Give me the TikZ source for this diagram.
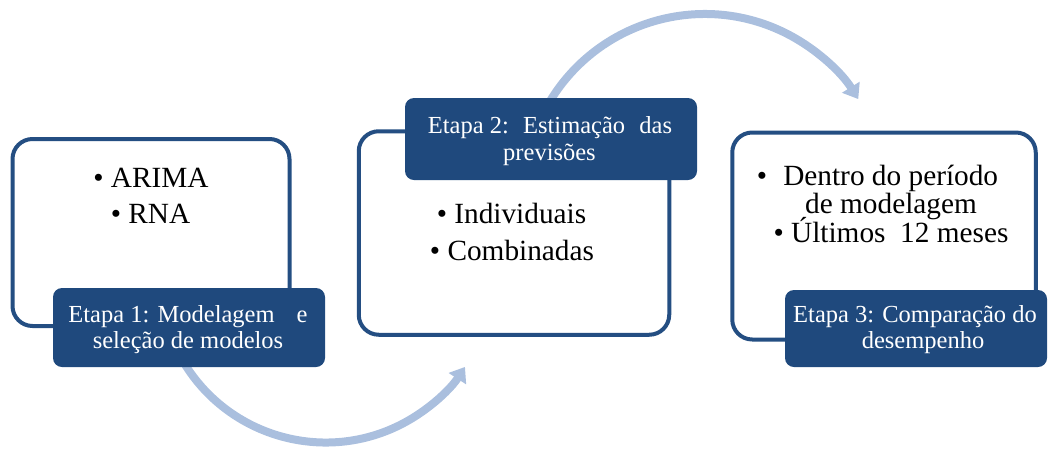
\documentclass[tikz,border=0pt]{standalone}
\usepackage{fontspec}
\setmainfont{Liberation Serif}
\usetikzlibrary{arrows.meta}
\definecolor{navy}{RGB}{31,73,125}
\definecolor{edgec}{RGB}{36,78,130}
\definecolor{flowc}{RGB}{170,191,222}
\begin{document}
\begin{tikzpicture}[x=1pt,y=-1pt,
  card/.style={draw=edgec, line width=4pt, rounded corners=20pt, fill=white, inner sep=0pt},
  tag/.style={fill=navy, rounded corners=9pt, inner sep=0pt},
  body/.style={font=\fontsize{29.3}{34}\selectfont, anchor=base, inner sep=0pt, text=black},
  tagtext/.style={font=\fontsize{24.5}{26}\selectfont, anchor=base, inner sep=0pt, text=white},
  flow/.style={draw=flowc, line width=8pt, -{Triangle[width=20pt,length=14pt]}}]
\useasboundingbox (0,0) rectangle (1049,448);

% connectors (drawn first, behind the boxes)
\coordinate (a1start) at (182,359.5);
\coordinate (a2start) at (548,104.5);
\draw[flow] (a1start) arc[start angle=150, end angle=33, radius=166];
\draw[flow] (a2start) arc[start angle=-150, end angle=-32, radius=181];

% cards
\node[card, minimum width=277pt, minimum height=187pt] (box1) at (151,232.5) {};
\node[card, minimum width=310.5pt, minimum height=203.5pt] (box2) at (514,233) {};
\node[card, minimum width=303.5pt, minimum height=207pt] (box3) at (884,236) {};

% tags
\node[tag, minimum width=272pt, minimum height=79pt] (lab1) at (189,327.5) {};
\node[tag, minimum width=292pt, minimum height=82pt] (lab2) at (551,139) {};
\node[tag, minimum width=262pt, minimum height=77pt] (lab3) at (916,328.5) {};

% tag texts
\node[tagtext] (l1a) at (188,322) {Etapa 1: Modelagem\hspace{0.9em}e};
\node[tagtext] (l1b) at (188,348) {seleção de modelos};
\node[tagtext] (l2a) at (550,133) {Etapa 2:\hspace{0.58em}Estimação\hspace{0.58em}das};
\node[tagtext] (l2b) at (549.5,160) {previsões};
\node[tagtext] (l3a) at (915,322) {Etapa 3: Comparação do};
\node[tagtext] (l3b) at (923,348) {desempenho};

% body texts
\node[body] (t1a) at (151,187) {• ARIMA};
\node[body] (t1b) at (150.5,223) {• RNA};
\node[body] (t2a) at (511.5,223) {• Individuais};
\node[body] (t2b) at (512,260) {• Combinadas};
\node[body] (t3a) at (877.5,185) {•\hspace{0.55em}Dentro do período};
\node[body] (t3b) at (891,213) {de modelagem};
\node[body] (t3c) at (891,242) {• Últimos\hspace{0.5em}12 meses};
\end{tikzpicture}
\end{document}
